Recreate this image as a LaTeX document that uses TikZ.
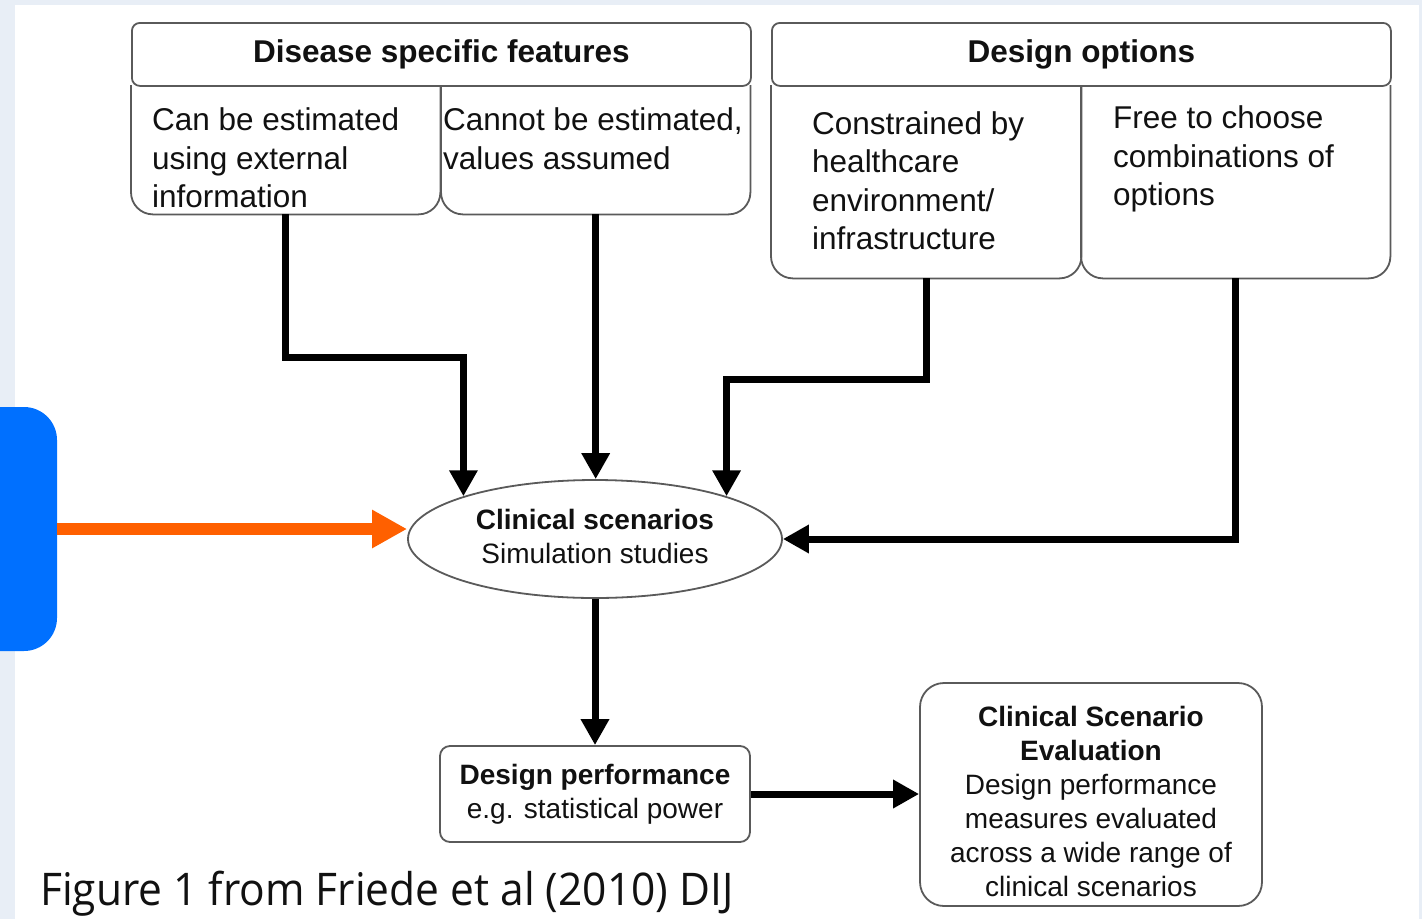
\documentclass[tikz,border=0pt]{standalone}
\usepackage{fontspec}
\setmainfont{Liberation Sans}
\newfontfamily\capfont{Open Sans}
\usetikzlibrary{shapes.geometric,arrows.meta,calc}
\definecolor{bgstrip}{HTML}{E8EEF6}
\definecolor{bluebar}{HTML}{0070FF}
\definecolor{orangearr}{HTML}{FF6000}
\definecolor{boxline}{HTML}{5A5A5A}
\definecolor{txtc}{HTML}{111111}
\begin{document}
\begin{tikzpicture}[x=1pt,y=-1pt,
  hdr/.style={draw=boxline,line width=1.8pt,rounded corners=8pt,minimum width=619pt,minimum height=63pt,inner sep=0pt,anchor=north west,text=txtc,font=\fontsize{31.5}{38}\selectfont\bfseries},
  subbox/.style={inner sep=0pt,anchor=north west},
  subline/.style={draw=boxline,line width=1.8pt,rounded corners=22pt},
  subtxt/.style={inner sep=0pt,anchor=base west,align=left,text=txtc,font=\fontsize{31.5}{38.5}\selectfont},
  midtxt/.style={align=center,text=txtc,font=\fontsize{28}{34}\selectfont},
  rbox/.style={draw=boxline,line width=1.8pt,inner sep=0pt},
  conn/.style={line width=7pt,-{Triangle[length=26pt,width=27pt]}},
]
\useasboundingbox (0,0) rectangle (1422,919);
\fill[bgstrip] (0,0) rectangle (1422,919);
\fill[white] (15,5) rectangle (1419,925);

% blue bar and orange arrow
\node[fill=bluebar,rounded corners=33pt,minimum width=97pt,minimum height=244pt,inner sep=0pt] (bar) at (8.5,529) {};

% top-left group
\node[subbox,minimum width=309pt,minimum height=129pt] (d1) at (131,85) {};
\node[subbox,minimum width=309pt,minimum height=129pt] (d2) at (441,85) {};
\draw[subline] (d1.north west) -- (d1.south west) -- (d1.south east) -- (d1.north east);
\draw[subline] (d2.north west) -- (d2.south west) -- (d2.south east) -- (d2.north east);
\node[hdr] (dh) at (131,22) {Disease specific features};
\node[subtxt] (t1) at (152,207.5) {Can be estimated\\using external\\information};
\node[subtxt] (t2) at (443,169) {Cannot be estimated,\\values assumed};

% top-right group
\node[subbox,minimum width=310pt,minimum height=193pt] (o1) at (771,85) {};
\node[subbox,minimum width=309pt,minimum height=193pt] (o2) at (1081,85) {};
\draw[subline] (o1.north west) -- (o1.south west) -- (o1.south east) -- (o1.north east);
\draw[subline] (o2.north west) -- (o2.south west) -- (o2.south east) -- (o2.north east);
\node[hdr] (oh) at (771,22) {Design options};
\node[subtxt] (t3) at (812,249.5) {Constrained by\\healthcare\\environment/\\infrastructure};
\node[subtxt] (t4) at (1113,205.5) {Free to choose\\combinations of\\options};

% ellipse
\node[ellipse,draw=boxline,line width=1.8pt,minimum width=374pt,minimum height=118pt,inner sep=0pt,midtxt] (ell) at (595,539) {\textbf{Clinical scenarios}\\Simulation studies\rule[-6pt]{0pt}{6pt}};

% bottom boxes
\node[rbox,rounded corners=10pt,minimum width=310pt,minimum height=96pt,midtxt] (dp) at (595,794) {\textbf{Design performance}\\e.g. statistical power};
\node[rbox,rounded corners=24pt,minimum width=342pt,minimum height=223pt,midtxt] (cse) at (1091,794.5) {\rule{0pt}{34.5pt}\textbf{Clinical Scenario}\\\textbf{Evaluation}\\Design performance\\measures evaluated\\across a wide range of\\clinical scenarios};

% caption
\node[inner sep=0pt,anchor=base west,text=txtc,font=\capfont\fontsize{45}{50}\selectfont] (cap) at (40,905) {\scalebox{0.944}[1]{Figure 1 from Friede et al (2010) DIJ}};

% connectors
\coordinate (h1) at (0,357);
\coordinate (h3) at (0,379);
\draw[conn] (d1.south) |- (ell.162.5 |- h1) -- (ell.162.5);
\draw[conn] (d2.south) -- (d2.south |- ell.north);
\draw[conn] (o1.south) |- (ell.18.2 |- h3) -- (ell.18.2);
\draw[conn] (o2.south) |- (ell.east);
\draw[conn] (ell.south) -- (dp.north);
\draw[conn] (dp.east) -- (dp.east -| cse.west);
\draw[orangearr,line width=12pt,-{Triangle[length=35pt,width=36pt]}] (bar.east) -- (bar.east -| ell.west);
\end{tikzpicture}
\end{document}
